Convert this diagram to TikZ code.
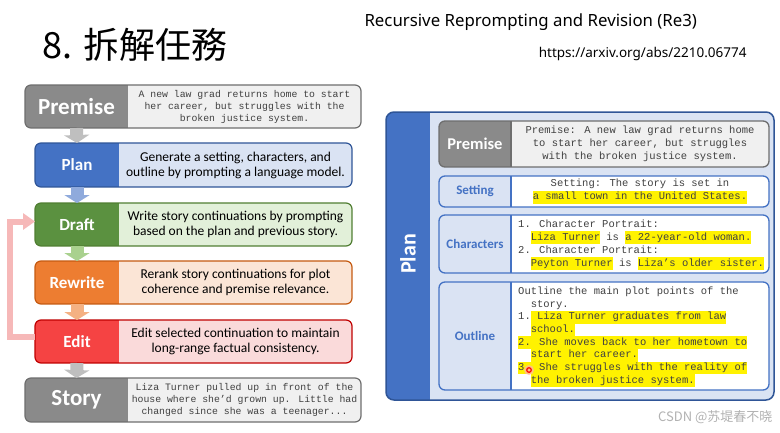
\documentclass[tikz,border=0pt]{standalone}
\usepackage{fontspec}
\setmainfont{Carlito}
\newfontfamily\codefont{Liberation Mono}
\newfontfamily\cjkfont{Noto Sans CJK TC}
\newfontfamily\cjkscfont{Noto Sans CJK SC}
\newfontfamily\slidefont{Noto Sans}
\usetikzlibrary{arrows.meta,calc,positioning}
\definecolor{gray-dark}{HTML}{8A8A8A}
\definecolor{gray-light}{HTML}{F0F0F0}
\definecolor{gray-border}{HTML}{6E6E6E}
\definecolor{gray-arrow}{HTML}{BFBFBF}
\definecolor{plan-dark}{HTML}{4472C4}
\definecolor{plan-light}{HTML}{DAE3F3}
\definecolor{plan-border}{HTML}{2F5597}
\definecolor{plan-arrow}{HTML}{8FAADC}
\definecolor{draft-dark}{HTML}{5B9140}
\definecolor{draft-light}{HTML}{E2F0D9}
\definecolor{draft-border}{HTML}{507E32}
\definecolor{draft-arrow}{HTML}{A9D18E}
\definecolor{rewrite-dark}{HTML}{ED7D31}
\definecolor{rewrite-light}{HTML}{FBE5D6}
\definecolor{rewrite-border}{HTML}{C55A11}
\definecolor{rewrite-arrow}{HTML}{F4B183}
\definecolor{edit-dark}{HTML}{F54343}
\definecolor{edit-light}{HTML}{FADADA}
\definecolor{edit-border}{HTML}{C00000}
\definecolor{back}{HTML}{F6B8B8}
\definecolor{codegray}{HTML}{404040}
\definecolor{hlyellow}{HTML}{FFF200}
\newcommand\hlt[1]{{\setlength{\fboxsep}{0pt}\colorbox{hlyellow}{\strut#1}}}

\begin{document}
\begin{tikzpicture}[x=1pt,y=-1pt,
  stagebox/.style={rectangle,inner sep=0pt,outer sep=0pt,anchor=north west},
  stagelabel/.style={inner sep=0pt,outer sep=0pt,anchor=west,text=white},
  stagetext/.style={align=center,font=\fontsize{13.5}{15}\selectfont},
  codetext/.style={align=center,text=codegray,font=\codefont\fontsize{9.8}{12}\selectfont},
  flowarrow/.style={line width=13pt,-{Triangle[width=25pt,length=8pt]}},
  backarrow/.style={draw=back,line width=6pt,-{Triangle[width=16pt,length=12pt]}},
  partbox/.style={rectangle,inner sep=0pt,outer sep=0pt,anchor=north west,minimum width=330},
  partlabel/.style={inner sep=0pt,outer sep=0pt,anchor=west,minimum width=72},
  plantext/.style={text=codegray,inner sep=0pt,font=\codefont\fontsize{10.5}{13}\selectfont}]
  \fill[white] (0,0) rectangle (780,432);
  \useasboundingbox (0,0) rectangle (780,432);
%
  \node[anchor=west,font=\cjkfont\fontsize{36}{36}\selectfont] (title) at (39,45) {8. 拆解任務};
  \node[anchor=west,font=\slidefont\fontsize{16.8}{17}\selectfont] (heading) at (361,22) {Recursive Reprompting and Revision (Re3)};
  \node[anchor=east,font=\slidefont\fontsize{13.5}{14}\selectfont] (link) at (750,54) {https://arxiv.org/abs/2210.06774};
%
  \foreach \nm/\lab/\x/\y/\w/\s/\h/\col/\lsz/\sty/\txt in {
    premise/Premise/25/85/336/103/43/gray/23/codetext/{A new law grad returns home to start\\her career, but struggles with the\\broken justice system.},
    plan/Plan/35/143/317/84/44/plan/17/stagetext/{Generate a setting, characters, and\\outline by prompting a language model.},
    draft/Draft/35/203/317/84/43/draft/17/stagetext/{Write story continuations by prompting\\based on the plan and previous story.},
    rewrite/Rewrite/35/261/317/84/43/rewrite/17/stagetext/{Rerank story continuations for plot\\coherence and premise relevance.},
    edit/Edit/35/320/317/84/43/edit/17/stagetext/{Edit selected continuation to maintain\\long-range factual consistency.},
    story/Story/25/378/336/103/44/gray/23/codetext/{Liza Turner pulled up in front of the\\house where she’d grown up. Little had\\changed since she was a teenager...}}
  {
    \node[stagebox,minimum width=\w,minimum height=\h] (\nm) at (\x,\y) {};
    \begin{scope}
      \clip[rounded corners=6pt] (\nm.north west) rectangle (\nm.south east);
      \fill[\col-light] (\nm.north west) rectangle (\nm.south east);
      \fill[\col-dark] (\nm.north west) rectangle ($(\nm.south west)+(\s,0)$);
    \end{scope}
    \draw[\col-border,line width=1.2pt,rounded corners=6pt] (\nm.north west) rectangle (\nm.south east);
    \node[stagelabel,minimum width=\s,minimum height=\h,font=\bfseries\fontsize{\lsz}{\lsz}\selectfont] (\nm-lab) at (\nm.west) {\lab};
    \node[\sty] (\nm-txt) at ($(\nm-lab.east)!0.5!(\nm.east)$) {\txt};
  }
%
  \draw[flowarrow,gray-arrow] (premise-lab.south) -- (plan-lab.north);
  \draw[flowarrow,plan-arrow] (plan-lab.south) -- (draft-lab.north);
  \draw[flowarrow,draft-arrow] (draft-lab.south) -- (rewrite-lab.north);
  \draw[flowarrow,rewrite-arrow] (rewrite-lab.south) -- (edit-lab.north);
  \draw[flowarrow,gray-arrow] (edit-lab.south) -- (story-lab.north);
  \draw[backarrow] ([yshift=5pt]edit-lab.west) -- ++(-25,0) |- ([yshift=3pt]draft-lab.west);
%
  \node[stagebox,minimum width=388,minimum height=288] (panel) at (386,112) {};
  \begin{scope}
    \clip[rounded corners=8pt] (panel.north west) rectangle (panel.south east);
    \fill[plan-light] (panel.north west) rectangle (panel.south east);
    \fill[plan-dark] (panel.north west) rectangle ($(panel.south west)+(44,0)$);
  \end{scope}
  \draw[plan-border,line width=1.5pt,rounded corners=8pt] (panel.north west) rectangle (panel.south east);
  \node[rotate=90,text=white,font=\bfseries\fontsize{22}{22}\selectfont] (panel-lab) at ($(panel.west)+(22,-2)$) {Plan};
%
  \foreach \nm/\lab/\y/\h/\lfill/\rfill/\bord/\ltext/\lsz in {
    premise/Premise/121/46/gray-dark/gray-light/gray-border/white/16.5,
    setting/Setting/176/31/plan-light/white/plan-dark/plan-dark/13,
    characters/Characters/215/58/plan-light/white/plan-dark/plan-dark/13,
    outline/Outline/282/108/plan-light/white/plan-dark/plan-dark/13}
  {
    \node[partbox,minimum height=\h] (part-\nm) at (439,\y) {};
    \begin{scope}
      \clip[rounded corners=6pt] (part-\nm.north west) rectangle (part-\nm.south east);
      \fill[\rfill] (part-\nm.north west) rectangle (part-\nm.south east);
      \fill[\lfill] (part-\nm.north west) rectangle ($(part-\nm.south west)+(72,0)$);
    \end{scope}
    \draw[\bord,line width=1.3pt,rounded corners=6pt] (part-\nm.north west) rectangle (part-\nm.south east);
    \draw[\bord,line width=1.3pt] ($(part-\nm.north west)+(72,0)$) -- ($(part-\nm.south west)+(72,0)$);
    \node[partlabel,minimum height=\h,text=\ltext,font=\bfseries\fontsize{\lsz}{\lsz}\selectfont] (part-\nm-lab) at (part-\nm.west) {\lab};
  }
%
  \node[plantext,align=center] (part-premise-txt) at ($(part-premise-lab.east)!0.5!(part-premise.east)$)
    {Premise: A new law grad returns home\\to start her career, but struggles\\with the broken justice system.};
  \node[plantext,align=center] (part-setting-txt) at ($(part-setting-lab.east)!0.5!(part-setting.east)$)
    {Setting: The story is set in\\\hlt{a small town in the United States.}};
  \node[plantext,align=left,anchor=west] (part-characters-txt) at ($(part-characters-lab.east)+(7,1)$)
    {1. Character Portrait:\\
     \phantom{xx}\hlt{Liza Turner} is \hlt{a 22-year-old woman.}\\
     2. Character Portrait:\\
     \phantom{xx}\hlt{Peyton Turner} is \hlt{Liza’s older sister.}};
  \node[plantext,align=left,anchor=west,font=\codefont\fontsize{10.5}{12.7}\selectfont] (part-outline-txt) at ($(part-outline-lab.east)+(7,1)$)
    {Outline the main plot points of the\\
     \phantom{xx}story.\\
     1.\hlt{\ Liza Turner graduates from law}\\
     \phantom{xx}\hlt{school.}\\
     \hlt{2. She moves back to her hometown to}\\
     \phantom{xx}\hlt{start her career.}\\
     \hlt{3. She struggles with the reality of}\\
     \phantom{xx}\hlt{the broken justice system.}};
  \fill[red!30,opacity=0.7] (529,370) circle (5);
  \draw[red,line width=1.2pt] (529,370) circle (2.3);
%
  \node[anchor=east,text=black!30,font=\cjkscfont\fontsize{13}{13}\selectfont] (mark) at (776,417) {CSDN @苏堤春不晓};
\end{tikzpicture}
\end{document}
